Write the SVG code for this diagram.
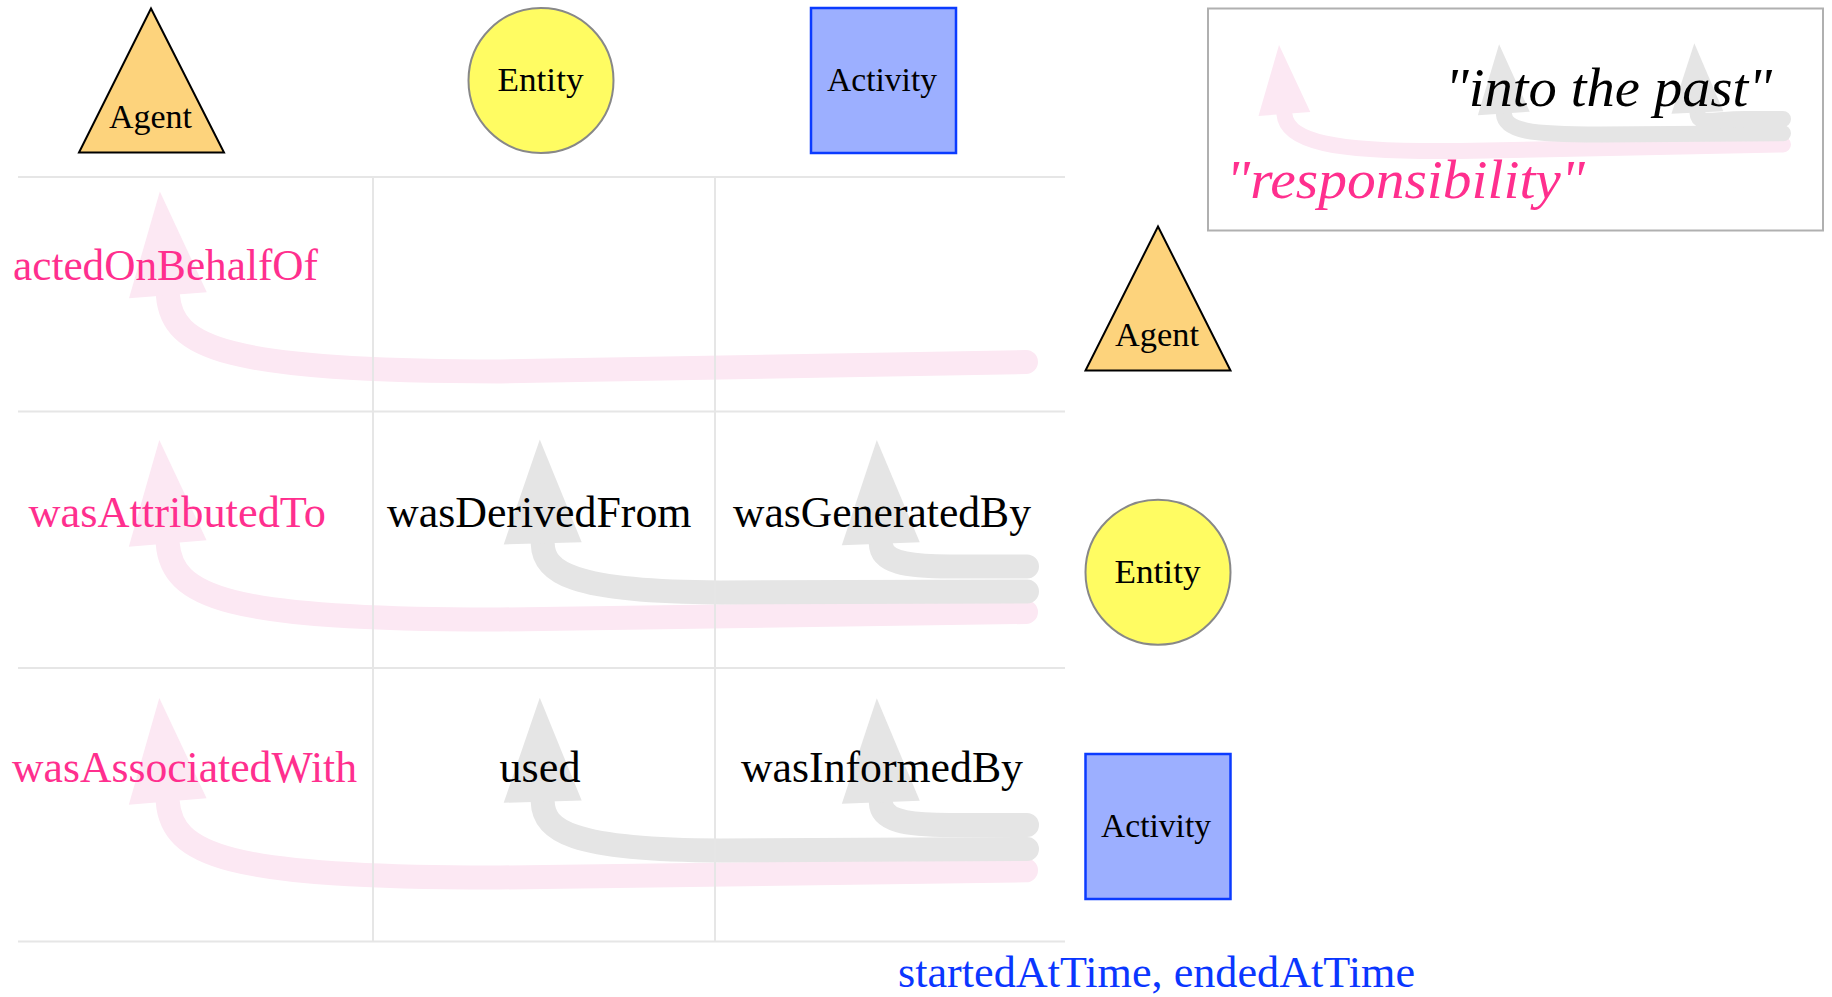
<svg xmlns="http://www.w3.org/2000/svg" width="1832" height="997" viewBox="0 0 1832 997">
<style>
  text { font-family: "Liberation Serif", "DejaVu Serif", serif; }
  .lbl { font-size: 44px; }
  .pinkt { fill: #FF2F8E; }
  .blackt { fill: #000000; }
  .node { font-size: 33px; fill: #000000; }
  .leg { font-size: 55px; font-style: italic; }
  .grid { stroke: #E6E6E6; stroke-width: 2; fill: none; }
  .sp { fill: none; stroke: #FCE8F3; stroke-linecap: round; marker-end: url(#ahPink); }
  .sg { fill: none; stroke: #E5E5E5; stroke-linecap: round; marker-end: url(#ahGray); }
  .main { stroke-width: 24; }
  .small { stroke-width: 16; }
  .agent { fill: #FDD37C; stroke: #000000; stroke-width: 2; stroke-linejoin: miter; }
  .entity { fill: #FFFC62; stroke: #888888; stroke-width: 2; }
  .activity { fill: #9CAFFF; stroke: #0B3BFF; stroke-width: 2.5; }
</style>
<defs>
  <marker id="ahPink" markerUnits="strokeWidth" markerWidth="6" markerHeight="4" refX="0" refY="0" orient="auto" overflow="visible">
    <path d="M0,-1.625 L4.33,0 L0,1.625 Z" fill="#FCE8F3"/>
  </marker>
  <marker id="ahGray" markerUnits="strokeWidth" markerWidth="6" markerHeight="4" refX="0" refY="0" orient="auto" overflow="visible">
    <path d="M0,-1.625 L4.33,0 L0,1.625 Z" fill="#E5E5E5"/>
  </marker>
</defs>
<rect x="0" y="0" width="1832" height="997" fill="#ffffff"/>

<g id="connectors">
  <path id="actedOnBehalfOf-arrow" class="sp main" d="M1026 362 L500 371.5 C225 371 172 348 167.9 295.2"/>
  <path id="wasAttributedTo-arrow" class="sp main" d="M1026 612 L500 619.5 C225 620 172 596.5 167.7 543.5"/>
  <path id="wasDerivedFrom-arrow" class="sg main" d="M1027 591.5 L720 592.5 C570 592 543.5 572 542.7 543.3"/>
  <path id="wasGeneratedBy-arrow" class="sg main" d="M1027 566.5 L950 566.5 C905 566.5 881.5 562 880.8 543.8"/>
  <path id="wasAssociatedWith-arrow" class="sp main" d="M1026 870.3 L500 877.5 C225 878 172 854.5 167.7 801.5"/>
  <path id="used-arrow" class="sg main" d="M1027 849 L720 850.5 C570 850 543.5 830.4 542.7 801.7"/>
  <path id="wasInformedBy-arrow" class="sg main" d="M1027 825 L950 825 C905 825 881.5 820.4 880.8 802.2"/>
</g>

<g id="grid">
  <line class="grid" x1="18" y1="177" x2="1065" y2="177"/>
  <line class="grid" x1="18" y1="411.5" x2="1065" y2="411.5"/>
  <line class="grid" x1="18" y1="668" x2="1065" y2="668"/>
  <line class="grid" x1="18" y1="941.5" x2="1065" y2="941.5"/>
  <line class="grid" x1="373" y1="177" x2="373" y2="942"/>
  <line class="grid" x1="715" y1="177" x2="715" y2="942"/>
</g>

<g id="labels">
  <text class="lbl pinkt" x="13" y="280" textLength="305" lengthAdjust="spacingAndGlyphs">actedOnBehalfOf</text>
  <text class="lbl pinkt" x="28.5" y="527.3" textLength="297.5" lengthAdjust="spacingAndGlyphs">wasAttributedTo</text>
  <text class="lbl blackt" x="387" y="527.3" textLength="304.5" lengthAdjust="spacingAndGlyphs">wasDerivedFrom</text>
  <text class="lbl blackt" x="733" y="527.3" textLength="298" lengthAdjust="spacingAndGlyphs">wasGeneratedBy</text>
  <text class="lbl pinkt" x="12" y="781.7" textLength="345" lengthAdjust="spacingAndGlyphs">wasAssociatedWith</text>
  <text class="lbl blackt" x="499.5" y="781.7" textLength="81" lengthAdjust="spacingAndGlyphs">used</text>
  <text class="lbl blackt" x="741" y="781.7" textLength="282" lengthAdjust="spacingAndGlyphs">wasInformedBy</text>
  <text class="lbl" x="898" y="986.7" fill="#0A36FF" textLength="517" lengthAdjust="spacingAndGlyphs">startedAtTime, endedAtTime</text>
</g>

<g id="node-agent-top">
  <polygon class="agent" points="151,8.5 224,152.5 79,152.5"/>
  <text class="node" x="109" y="128.3" textLength="83" lengthAdjust="spacingAndGlyphs">Agent</text>
</g>
<g id="node-entity-top">
  <circle class="entity" cx="541" cy="80.5" r="72.5"/>
  <text class="node" x="497.5" y="90.7" textLength="86" lengthAdjust="spacingAndGlyphs">Entity</text>
</g>
<g id="node-activity-top">
  <rect class="activity" x="811" y="8" width="145" height="145"/>
  <text class="node" x="827" y="90.7" textLength="110" lengthAdjust="spacingAndGlyphs">Activity</text>
</g>

<g id="node-agent-right">
  <polygon class="agent" points="1158,226.5 1230.5,370.5 1085.5,370.5"/>
  <text class="node" x="1115" y="345.5" textLength="84" lengthAdjust="spacingAndGlyphs">Agent</text>
</g>
<g id="node-entity-right">
  <circle class="entity" cx="1158" cy="572.3" r="72.5"/>
  <text class="node" x="1114.5" y="583.3" textLength="86" lengthAdjust="spacingAndGlyphs">Entity</text>
</g>
<g id="node-activity-right">
  <rect class="activity" x="1085.5" y="754" width="145" height="145"/>
  <text class="node" x="1101" y="836.7" textLength="110" lengthAdjust="spacingAndGlyphs">Activity</text>
</g>

<g id="legend">
  <rect x="1208" y="8.5" width="615" height="222" fill="#ffffff" stroke="#B0B0B0" stroke-width="2"/>
  <path class="sp small" d="M1783 144.5 L1460 151 C1330 152.5 1286.5 141 1284.4 114"/>
  <path class="sg small" d="M1783 133.3 L1600 134.5 C1530 134.5 1505 131 1503.8 113.4"/>
  <path class="sg small" d="M1783 119 L1745 119 C1712 119 1698 126 1697.4 112.5"/>
  <text class="leg" x="1445" y="105.5" fill="#000000" textLength="327" lengthAdjust="spacingAndGlyphs">"into the past"</text>
  <text class="leg" x="1226" y="198" fill="#FF2F8E" textLength="359" lengthAdjust="spacingAndGlyphs">"responsibility"</text>
</g>
</svg>
